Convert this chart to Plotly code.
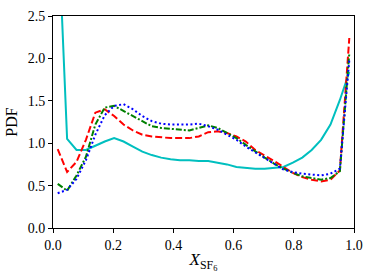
import plotly.graph_objects as go

x_bins = [0.015625, 0.046875, 0.078125, 0.109375, 0.140625, 0.171875, 0.203125, 0.234375,
          0.265625, 0.296875, 0.328125, 0.359375, 0.390625, 0.421875, 0.453125, 0.484375,
          0.515625, 0.546875, 0.578125, 0.609375, 0.640625, 0.671875, 0.703125, 0.734375,
          0.765625, 0.796875, 0.828125, 0.859375, 0.890625, 0.921875, 0.953125, 0.984375]

cyan = [3.7, 1.05, 0.92, 0.92, 0.97, 1.02, 1.06, 1.02, 0.96, 0.90, 0.86, 0.83, 0.81, 0.80,
        0.80, 0.79, 0.79, 0.77, 0.75, 0.72, 0.71, 0.70, 0.70, 0.71, 0.72, 0.77, 0.83, 0.92,
        1.04, 1.22, 1.51, 1.84]
red = [0.93, 0.66, 0.78, 1.04, 1.36, 1.40, 1.32, 1.22, 1.15, 1.10, 1.08, 1.07, 1.06, 1.06,
       1.06, 1.08, 1.13, 1.14, 1.12, 1.08, 1.02, 0.92, 0.86, 0.79, 0.72, 0.65, 0.60, 0.57,
       0.55, 0.57, 0.68, 2.24]
green = [0.52, 0.44, 0.62, 0.84, 1.22, 1.42, 1.44, 1.38, 1.31, 1.25, 1.20, 1.18, 1.17, 1.16,
         1.15, 1.18, 1.21, 1.18, 1.12, 1.06, 0.98, 0.90, 0.83, 0.76, 0.70, 0.65, 0.61, 0.59,
         0.57, 0.59, 0.67, 2.06]
blue = [0.41, 0.45, 0.58, 0.80, 1.10, 1.33, 1.44, 1.46, 1.40, 1.32, 1.26, 1.23, 1.22, 1.22,
        1.22, 1.23, 1.20, 1.16, 1.10, 1.04, 0.96, 0.89, 0.82, 0.75, 0.69, 0.66, 0.64, 0.63,
        0.62, 0.64, 0.70, 1.98]

x_ticks = [0.0, 0.2, 0.4, 0.6, 0.8, 1.0]
y_ticks = [0.0, 0.5, 1.0, 1.5, 2.0, 2.5]

series = [
    (cyan, "#00BFBF", "solid"),
    (red, "#FF0000", "7px,3px"),
    (green, "#008000", "6px,2px,2px,2px"),
    (blue, "#0000FF", "2px,2.5px"),
]

fig = go.Figure()
for vals, col, dash in series:
    fig.add_trace(go.Scatter(x=x_bins, y=vals, mode="lines",
                             line=dict(color=col, width=2, dash=dash),
                             showlegend=False))

font = dict(family="Liberation Serif, DejaVu Serif, serif", size=14, color="black")

fig.update_layout(
    width=374, height=280,
    margin=dict(l=53, r=20, t=16, b=52, autoexpand=False),
    paper_bgcolor="white", plot_bgcolor="white",
    font=font,
    xaxis=dict(range=[0, 1], tickvals=x_ticks, ticktext=[f"{v:.1f}" for v in x_ticks],
               showgrid=False, zeroline=False, showline=True, mirror=True,
               linecolor="black", linewidth=1, ticks="outside", ticklen=4,
               tickcolor="black", automargin=False,
               title=dict(text="<i>X</i><sub>SF<sub>6</sub></sub>",
                          font=dict(size=17), standoff=1)),
    yaxis=dict(range=[0, 2.5], tickvals=y_ticks, ticktext=[f"{v:.1f}" for v in y_ticks],
               showgrid=False, zeroline=False, showline=True, mirror=True,
               linecolor="black", linewidth=1, ticks="outside", ticklen=4,
               tickcolor="black", automargin=False,
               title=dict(text="PDF", font=dict(size=16), standoff=6)),
)

fig.write_html("out.html", config={"displayModeBar": False},
               post_script="document.body.style.margin='0';document.body.style.padding='0';")
